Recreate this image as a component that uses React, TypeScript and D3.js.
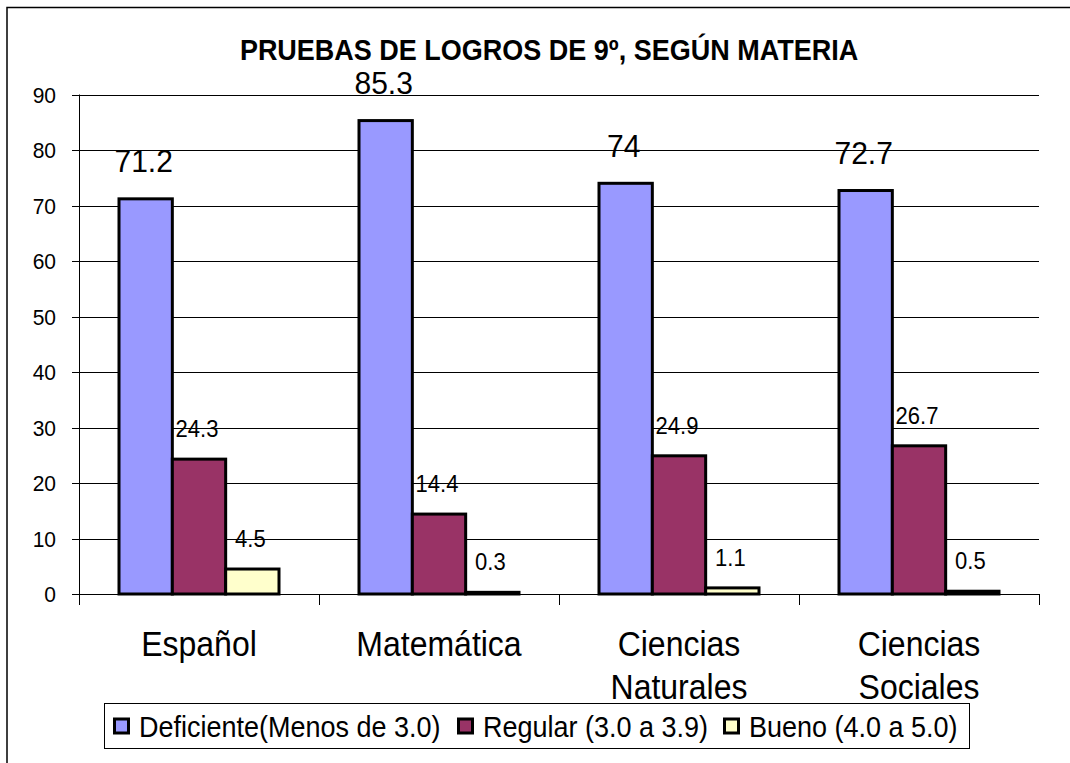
import React from "react";
import * as d3 from "d3";

const categories = ["Español", "Matemática", "Ciencias Naturales", "Ciencias Sociales"];
const seriesNames = ["Deficiente(Menos de 3.0)", "Regular (3.0 a 3.9)", "Bueno (4.0 a 5.0)"];
const deficiente = [71.2, 85.3, 74, 72.7];
const regular = [24.3, 14.4, 24.9, 26.7];
const bueno = [4.5, 0.3, 1.1, 0.5];
const yTicks = [0, 10, 20, 30, 40, 50, 60, 70, 80, 90];
const title = "PRUEBAS DE LOGROS DE 9º, SEGÚN MATERIA";

const colors = ["#9999FF", "#993366", "#FFFFCC"];
const FONT = "'Liberation Sans', Arial, sans-serif";
const SY = 1.07; // the original is a bit stretched vertically

function T(props: any) {
  const { x, y, size, anchor = "middle", weight = "normal", children } = props;
  return (
    <text
      transform={`translate(${x},${y}) scale(1,${SY})`}
      fontSize={size}
      fontFamily={FONT}
      fontWeight={weight}
      textAnchor={anchor}
      fill="#000"
    >
      {children}
    </text>
  );
}

export default function App() {
  const W = 1070;
  const H = 763;
  const left = 79;
  const right = 1039;
  const top = 94.5;
  const bottom = 594;

  const x = d3.scaleBand().domain(categories).range([left, right]).padding(0);
  const xInner = d3
    .scaleBand()
    .domain(seriesNames)
    .range([0, x.bandwidth()])
    .paddingInner(0)
    .paddingOuter(0.75);
  const y = d3.scaleLinear().domain([0, 90]).range([bottom, top]);

  const series = [deficiente, regular, bueno];

  // legend layout
  const legendX = [113, 457, 723];

  return (
    <svg width={W} height={H} style={{ position: "absolute", left: 0, top: 0, background: "#fff" }}>
      {/* outer frame */}
      <path d={`M7,${H} V7.5 H${W}`} fill="none" stroke="#000" strokeWidth={1.5} />

      <T x={549} y={60} size={27} weight="bold">
        {title}
      </T>

      {/* gridlines + y ticks */}
      {yTicks.map((t) => (
        <g key={t}>
          <line x1={72} x2={right} y1={Math.round(y(t)) + 0.5} y2={Math.round(y(t)) + 0.5} stroke="#000" strokeWidth={1} />
          <T x={56} y={y(t) + 8} size={21} anchor="end">
            {t}
          </T>
        </g>
      ))}

      {/* axes */}
      <line x1={left + 0.5} x2={left + 0.5} y1={top} y2={bottom + 11} stroke="#000" strokeWidth={1} />
      {categories.map((c) => (
        <line key={c} x1={(x(c) as number) + x.bandwidth() + 0.5} x2={(x(c) as number) + x.bandwidth() + 0.5} y1={bottom} y2={bottom + 11} stroke="#000" strokeWidth={1} />
      ))}

      {/* bars */}
      {series.map((vals, si) =>
        vals.map((v, ci) => {
          const bx = (x(categories[ci]) as number) + (xInner(seriesNames[si]) as number);
          return (
            <rect
              key={`${si}-${ci}`}
              x={bx}
              y={y(v)}
              width={xInner.bandwidth()}
              height={bottom - y(v)}
              fill={colors[si]}
              stroke="#000"
              strokeWidth={3}
            />
          );
        })
      )}

      {/* value labels */}
      {series.map((vals, si) =>
        vals.map((v, ci) => {
          const cx = (x(categories[ci]) as number) + (xInner(seriesNames[si]) as number) + xInner.bandwidth() / 2 - 2;
          const big = si === 0;
          return (
            <T key={`l${si}-${ci}`} x={cx} y={y(v) - (big ? 26.5 : 22)} size={big ? 30 : 22}>
              {String(v)}
            </T>
          );
        })
      )}

      {/* category labels */}
      {categories.map((c) => {
        const cx = (x(c) as number) + x.bandwidth() / 2;
        return c.split(" ").map((line, i) => (
          <T key={c + i} x={cx} y={656 + i * 43} size={32}>
            {line}
          </T>
        ));
      })}

      {/* legend */}
      <rect x={104.5} y={703.5} width={865} height={45} fill="#fff" stroke="#000" strokeWidth={1} />
      {seriesNames.map((n, i) => (
        <g key={n}>
          <rect x={legendX[i] + 1.5} y={719} width={14} height={14} fill={colors[i]} stroke="#000" strokeWidth={3} />
          <T x={legendX[i] + 26} y={736.5} size={27} anchor="start">
            {n}
          </T>
        </g>
      ))}
    </svg>
  );
}
